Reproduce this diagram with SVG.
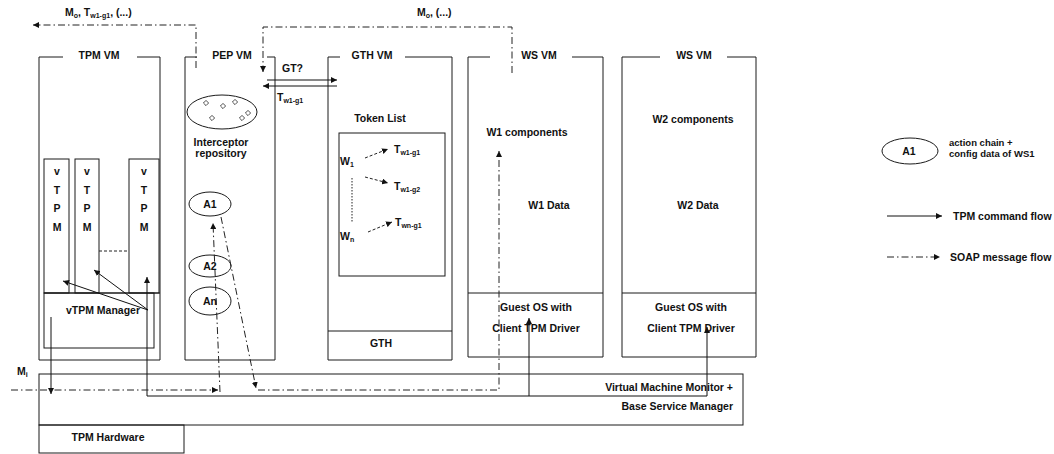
<svg xmlns="http://www.w3.org/2000/svg" width="1054" height="454" viewBox="0 0 1054 454">
  <style>
    .box { fill: none; stroke: #1a1a1a; stroke-width: 1; }
    .t { font-family: "Liberation Sans", Arial, Helvetica, sans-serif; font-weight: bold; font-size: 10.5px; fill: #111; }
    .s { font-size: 7px; }
    .m { text-anchor: middle; }
    .e { text-anchor: end; }
    .cmd { fill: none; stroke: #111; stroke-width: 1; }
    .soap { fill: none; stroke: #222; stroke-width: 1; stroke-dasharray: 7 3 1.5 3; }
    .tok { fill: none; stroke: #222; stroke-width: 1; stroke-dasharray: 3 2; }
    .dot { fill: none; stroke: #222; stroke-width: 1; stroke-dasharray: 1.5 1.5; }
    .dia { fill: #fff; stroke: #222; stroke-width: 0.8; }
  </style>
  <defs>
    <marker id="ah" viewBox="0 0 6 6" refX="6" refY="3" markerWidth="6" markerHeight="6" markerUnits="userSpaceOnUse" orient="auto">
      <path d="M0,0 L6,3 L0,6 z" fill="#111"/>
    </marker>
    <path id="dm" d="M0,-2.6 L2.6,0 L0,2.6 L-2.6,0 z"/>
  </defs>

  <rect width="1054" height="454" fill="#fff"/>

  <!-- TPM VM -->
  <g id="tpm-vm">
    <path class="box" d="M63,57 H39 V360 H160 V57 H137"/>
    <text class="t m" x="99" y="59">TPM VM</text>
    <rect class="box" x="44" y="159" width="25" height="134"/>
    <rect class="box" x="75" y="159" width="24" height="134"/>
    <rect class="box" x="129" y="159" width="30" height="134"/>
    <path class="tok" d="M99,251 H129"/>
    <g class="t m">
      <text x="57" y="175">v</text><text x="57" y="194">T</text><text x="57" y="212">P</text><text x="57" y="231">M</text>
      <text x="87" y="175">v</text><text x="87" y="194">T</text><text x="87" y="212">P</text><text x="87" y="231">M</text>
      <text x="144" y="175">v</text><text x="144" y="194">T</text><text x="144" y="212">P</text><text x="144" y="231">M</text>
    </g>
  </g>

  <g id="vtpm-manager">
    <path class="box" d="M44,293 H160"/>
    <rect class="box" x="44" y="293" width="110" height="55"/>
    <text class="t m" x="103" y="314">vTPM Manager</text>
  </g>

  <!-- PEP VM -->
  <g id="pep-vm">
    <path class="box" d="M197,57 H185 V360 H275 V57 H267"/>
    <text class="t m" x="232" y="59">PEP VM</text>
  </g>

  <g id="interceptor-repository">
    <ellipse class="box" cx="222" cy="112" rx="35" ry="17"/>
    <use href="#dm" class="dia" x="206" y="103"/>
    <use href="#dm" class="dia" x="223" y="106"/>
    <use href="#dm" class="dia" x="235" y="102"/>
    <use href="#dm" class="dia" x="212" y="118"/>
    <use href="#dm" class="dia" x="242" y="118"/>
    <use href="#dm" class="dia" x="248" y="113"/>
    <text class="t m" x="221" y="146">Interceptor</text>
    <text class="t m" x="221" y="157">repository</text>
  </g>

  <g id="a1">
    <ellipse class="box" cx="210" cy="204" rx="21" ry="12"/>
    <text class="t m" x="210" y="208">A1</text>
  </g>
  <g id="a2">
    <ellipse class="box" cx="210" cy="266" rx="21" ry="11"/>
    <text class="t m" x="210" y="270">A2</text>
  </g>
  <g id="an">
    <ellipse class="box" cx="210" cy="301" rx="21" ry="14"/>
    <text class="t m" x="210" y="305">An</text>
  </g>

  <!-- GTH VM -->
  <g id="gth-vm">
    <path class="box" d="M340,57 H328 V360 H452 V57 H405"/>
    <text class="t m" x="372" y="59">GTH VM</text>
    <text class="t m" x="380" y="122">Token List</text>
    <path class="box" d="M328,331 H452"/>
    <text class="t m" x="381" y="347">GTH</text>
  </g>

  <g id="token-list">
    <rect class="box" x="339" y="133" width="106" height="143"/>
    <text class="t" x="340" y="165">W<tspan class="s" dy="2">1</tspan></text>
    <text class="t" x="340" y="240">W<tspan class="s" dy="2">n</tspan></text>
    <text class="t" x="394" y="153">T<tspan class="s" dy="2">w1-g1</tspan></text>
    <text class="t" x="394" y="190">T<tspan class="s" dy="2">w1-g2</tspan></text>
    <text class="t" x="395" y="226">T<tspan class="s" dy="2">wn-g1</tspan></text>
    <path class="tok" d="M365,158 L388,149" marker-end="url(#ah)"/>
    <path class="tok" d="M365,177 L388,183" marker-end="url(#ah)"/>
    <path class="tok" d="M368,232 L392,222" marker-end="url(#ah)"/>
    <path class="dot" d="M352,178 V222"/>
  </g>

  <!-- WS VM 1 -->
  <g id="ws-vm-1">
    <path class="box" d="M490,57 H468 V357 H603 V57 H572"/>
    <text class="t m" x="539" y="59">WS VM</text>
    <text class="t m" x="527" y="136">W1 components</text>
    <text class="t m" x="549" y="209">W1 Data</text>
    <path class="box" d="M468,293 H603"/>
    <text class="t m" x="536" y="311">Guest OS with</text>
    <text class="t m" x="536" y="332">Client TPM Driver</text>
  </g>

  <!-- WS VM 2 -->
  <g id="ws-vm-2">
    <path class="box" d="M660,57 H622 V357 H756 V57 H727"/>
    <text class="t m" x="694" y="59">WS VM</text>
    <text class="t m" x="693" y="123">W2 components</text>
    <text class="t m" x="698" y="209">W2 Data</text>
    <path class="box" d="M622,293 H756"/>
    <text class="t m" x="691" y="311">Guest OS with</text>
    <text class="t m" x="691" y="332">Client TPM Driver</text>
  </g>

  <!-- Hypervisor layer -->
  <g id="vmm">
    <rect class="box" x="39" y="374" width="704" height="51"/>
    <text class="t e" x="733" y="391">Virtual Machine Monitor +</text>
    <text class="t e" x="733" y="410">Base Service Manager</text>
  </g>

  <g id="tpm-hardware">
    <rect class="box" x="39" y="425" width="145" height="28"/>
    <text class="t m" x="108" y="441">TPM Hardware</text>
  </g>

  <!-- Connectors -->
  <g id="connectors">
    <!-- TPM command flow -->
    <path class="cmd" d="M148,310 L63,281" marker-end="url(#ah)"/>
    <path class="cmd" d="M148,310 L94,270" marker-end="url(#ah)"/>
    <path class="cmd" d="M707,396 H147 V277" marker-end="url(#ah)"/>
    <path class="cmd" d="M707,396 V327" marker-end="url(#ah)"/>
    <path class="cmd" d="M529,396 V318" marker-end="url(#ah)"/>
    <path class="cmd" d="M51,317 V394" marker-end="url(#ah)"/>
    <path class="cmd" d="M267,80 H337" marker-end="url(#ah)"/>
    <path class="cmd" d="M337,86 H263" marker-end="url(#ah)"/>

    <!-- SOAP message flow -->
    <path class="soap" d="M196,68 V25 H33" marker-end="url(#ah)"/>
    <path class="soap" d="M512,73 V27 H263 V72" marker-end="url(#ah)"/>
    <path class="soap" d="M11,390 H218" marker-end="url(#ah)"/>
    <path class="soap" d="M220,392 L213,223" marker-end="url(#ah)"/>
    <path class="soap" d="M221,217 L256,388" marker-end="url(#ah)"/>
    <path class="soap" d="M258,390 H499 V151" marker-end="url(#ah)"/>
  </g>

  <!-- Flow labels -->
  <g id="labels">
    <text class="t" x="65" y="16">M<tspan class="s" dy="2">o</tspan><tspan dy="-2">, T</tspan><tspan class="s" dy="2">w1-g1</tspan><tspan dy="-2">, (...)</tspan></text>
    <text class="t" x="417" y="16">M<tspan class="s" dy="2">o</tspan><tspan dy="-2">, (...)</tspan></text>
    <text class="t" x="282" y="72">GT?</text>
    <text class="t" x="277" y="101">T<tspan class="s" dy="2">w1-g1</tspan></text>
    <text class="t" x="17" y="375">M<tspan class="s" dy="2">i</tspan></text>
  </g>

  <!-- Legend -->
  <g id="legend">
    <ellipse class="box" cx="910" cy="151" rx="28" ry="13"/>
    <text class="t m" x="909" y="155">A1</text>
    <text class="t" x="949" y="146" style="font-size:9.5px">action chain +</text>
    <text class="t" x="949" y="157" style="font-size:9.5px">config data of WS1</text>
    <path class="cmd" d="M887,216 H942" marker-end="url(#ah)"/>
    <text class="t" x="953" y="220">TPM command flow</text>
    <path class="soap" d="M887,257 H940" marker-end="url(#ah)"/>
    <text class="t" x="950" y="261">SOAP message flow</text>
  </g>
</svg>
